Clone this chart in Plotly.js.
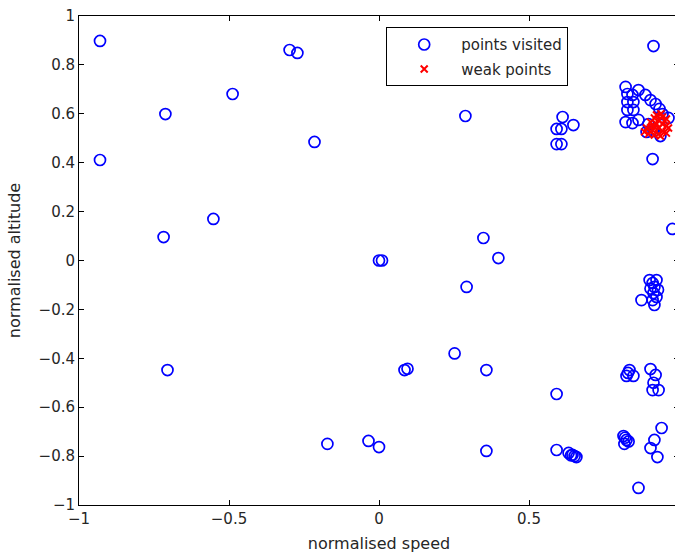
<!DOCTYPE html>
<html>
<head>
<meta charset="utf-8">
<script src="https://cdn.plot.ly/plotly-3.0.1.min.js"></script>
<style>
  html, body { margin: 0; padding: 0; overflow: hidden; background: #fff; }
  #plot { width: 690px; height: 553px; }
</style>
</head>
<body>
<div id="plot"></div>
<script>
// Points visited during the search (normalised speed / altitude)
const visitedSpeed = [
  -0.93, -0.93, -0.712, -0.488, -0.298, -0.272, -0.215, -0.552, -0.718, -0.705,
  0.0, 0.01, 0.288, 0.348, 0.398, 0.292, 0.252, 0.358, 0.085, 0.095,
  -0.172, -0.035, 0.0, 0.358, 0.592, 0.592, 0.632, 0.645, 0.658, 0.652, 0.64,
  0.612, 0.648, 0.592, 0.608, 0.592, 0.608,
  0.915,
  0.822, 0.865, 0.828, 0.828, 0.848, 0.828, 0.848, 0.822, 0.845, 0.865, 0.845,
  0.888, 0.905, 0.922, 0.935, 0.945, 0.898, 0.892, 0.938, 0.965, 0.915,
  0.912, 0.978,
  0.902, 0.925, 0.912, 0.918, 0.915, 0.925, 0.912, 0.918, 0.93, 0.905, 0.875,
  0.835, 0.825, 0.848, 0.83, 0.905, 0.922, 0.915, 0.912, 0.932,
  0.815, 0.825, 0.818, 0.832, 0.82, 0.942, 0.918, 0.905, 0.928, 0.865
];
const visitedAltitude = [
  0.898, 0.411, 0.599, 0.681, 0.861, 0.849, 0.485, 0.17, 0.096, -0.448,
  0.0, 0.0, 0.591, 0.092, 0.01, -0.108, -0.38, -0.448, -0.448, -0.443,
  -0.75, -0.738, -0.763, -0.779, -0.546, -0.775, -0.787, -0.795, -0.804, -0.8, -0.797,
  0.587, 0.554, 0.538, 0.538, 0.476, 0.476,
  0.877,
  0.71, 0.697, 0.681, 0.648, 0.648, 0.616, 0.616, 0.566, 0.562, 0.575, 0.677,
  0.677, 0.656, 0.64, 0.62, 0.599, 0.558, 0.526, 0.509, 0.583, 0.53,
  0.415, 0.129,
  -0.08, -0.08, -0.092, -0.108, -0.133, -0.149, -0.162, -0.182, -0.12, -0.115, -0.162,
  -0.448, -0.472, -0.472, -0.46, -0.444, -0.468, -0.5, -0.53, -0.53,
  -0.718, -0.734, -0.75, -0.74, -0.725, -0.685, -0.734, -0.767, -0.804, -0.93
];

// Weak points found inside the upper-right cluster
const weakSpeed = [
  0.892, 0.905, 0.905, 0.918, 0.918, 0.918, 0.932, 0.932, 0.932, 0.945,
  0.945, 0.945, 0.958, 0.958, 0.958, 0.898, 0.925, 0.938, 0.952, 0.912,
  0.885, 0.965, 0.925, 0.94, 0.91
];
const weakAltitude = [
  0.542, 0.566, 0.526, 0.583, 0.546, 0.513, 0.575, 0.542, 0.517, 0.587,
  0.558, 0.53, 0.579, 0.55, 0.521, 0.517, 0.558, 0.509, 0.571, 0.534,
  0.526, 0.542, 0.595, 0.6, 0.55
];

const xTicks = [-1, -0.5, 0, 0.5, 1];
const yTicks = [-1, -0.8, -0.6, -0.4, -0.2, 0, 0.2, 0.4, 0.6, 0.8, 1];

const textColor = '#262626';
const fontFamily = '"DejaVu Sans", Arial, sans-serif';

const traces = [
  {
    type: 'scatter', mode: 'markers', name: 'points visited',
    x: visitedSpeed, y: visitedAltitude,
    legendgroup: 'a',
    marker: { symbol: 'circle-open', size: 11, color: '#0000ff', line: { width: 1.7, color: '#0000ff' } }
  },
  {
    type: 'scatter', mode: 'markers', name: 'weak points',
    x: weakSpeed, y: weakAltitude,
    legendgroup: 'b',
    marker: { symbol: 'x-thin-open', size: 7, color: '#ff0000', line: { width: 2, color: '#ff0000' } }
  }
];

const axisCommon = {
  showline: true, linecolor: '#000', linewidth: 1, mirror: 'ticks',
  ticks: 'inside', ticklen: 5, tickcolor: '#000', tickwidth: 1,
  showgrid: false, zeroline: false,
  tickfont: { family: fontFamily, size: 15, color: textColor }
};

const layout = {
  width: 690, height: 553,
  margin: { l: 79, r: 11, t: 16, b: 48 },
  paper_bgcolor: '#fff', plot_bgcolor: '#fff',
  showlegend: true,
  font: { family: fontFamily, color: textColor },
  xaxis: Object.assign({}, axisCommon, {
    range: [-1, 1], tickvals: xTicks,
    title: { text: 'normalised speed', font: { family: fontFamily, size: 16, color: textColor }, standoff: 12 }
  }),
  yaxis: Object.assign({}, axisCommon, {
    range: [-1, 1], tickvals: yTicks,
    title: { text: 'normalised altitude', font: { family: fontFamily, size: 16, color: textColor }, standoff: 13 }
  }),
  legend: {
    x: 0.512, y: 0.977, xanchor: 'left', yanchor: 'top',
    bgcolor: '#fff', bordercolor: '#000', borderwidth: 1,
    font: { family: fontFamily, size: 15, color: textColor },
    tracegroupgap: 2, itemwidth: 64
  }
};

Plotly.newPlot('plot', traces, layout, { staticPlot: true, displayModeBar: false });
</script>
</body>
</html>
